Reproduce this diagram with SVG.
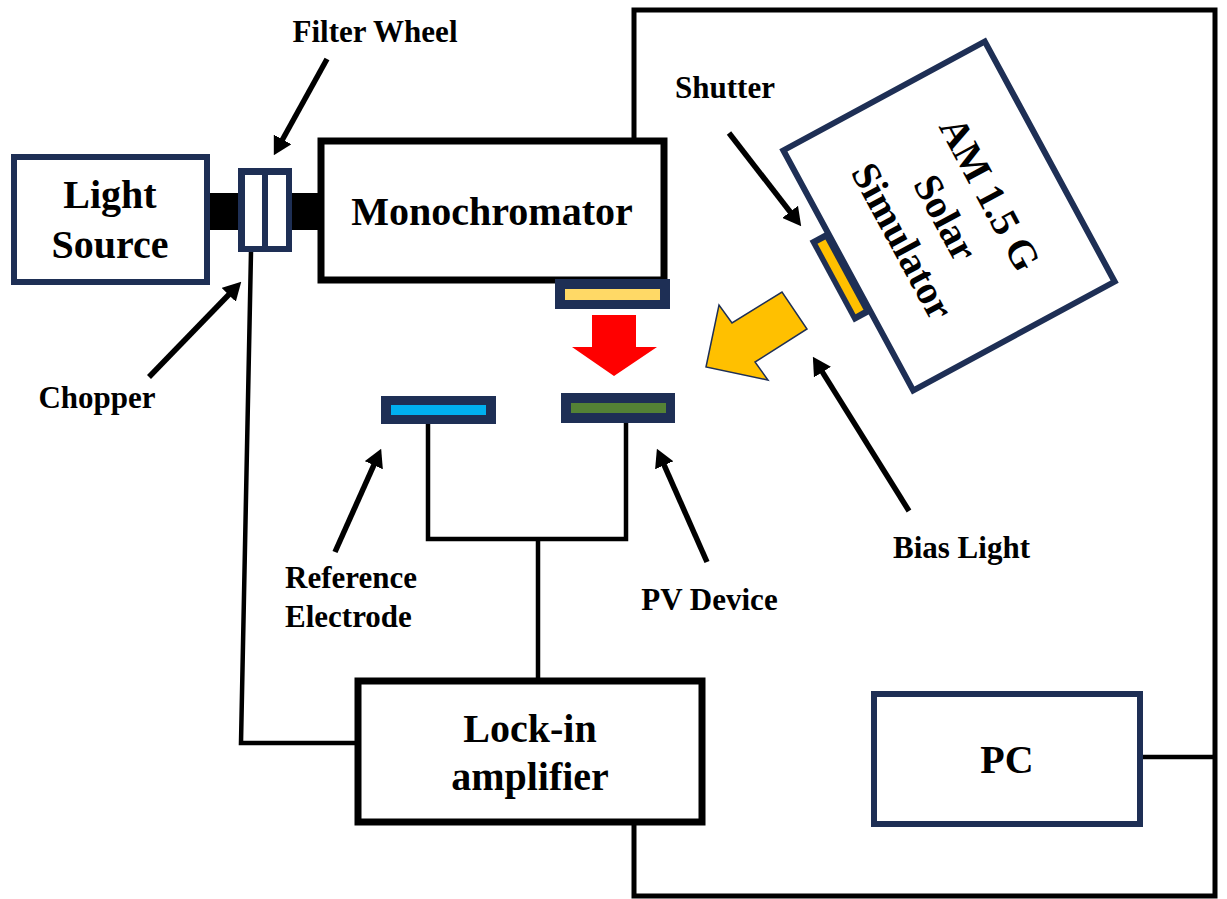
<svg xmlns="http://www.w3.org/2000/svg" width="1227" height="899" viewBox="0 0 1227 899">
<style>
  text { font-family: "Liberation Serif", "Times New Roman", serif; font-weight: bold; fill: #000; }
  .big { font-size: 40px; text-anchor: middle; }
  .lbl { font-size: 31px; }
  .mid { text-anchor: middle; }
  .navybox { fill: #fff; stroke: #1E2F55; stroke-width: 6; }
  .blackbox { fill: #fff; stroke: #000; stroke-width: 7; }
  .navy { fill: #1E2F55; }
  .wire { fill: none; stroke: #000; stroke-width: 4.5; }
  .frame { fill: none; stroke: #000; stroke-width: 5; }
  .pointer { fill: none; stroke: #000; stroke-width: 5.5; marker-end: url(#ah); }
</style>
<defs>
  <marker id="ah" viewBox="0 0 10 11" refX="1" refY="5.5" markerWidth="3.3" markerHeight="3.63" orient="auto" markerUnits="strokeWidth">
    <path d="M0,0 L10,5.5 L0,11 z" fill="#000"/>
  </marker>
</defs>
<rect width="1227" height="899" fill="#fff"/>

<g id="connectors">
  <path class="frame" d="M634,140 L634,10 L1215,10 L1215,896 L634,896 L634,825"/>
  <path class="wire" d="M1143,757 L1215,757"/>
  <path class="wire" d="M251,252 L241,743 L358,743"/>
  <path class="wire" d="M428,424 L428,539 L626,539 L626,423"/>
  <path class="wire" d="M538,539 L538,681"/>
  <rect x="205" y="193" width="118" height="37" fill="#000"/>
  <line class="pointer" x1="327" y1="59" x2="281.7" y2="141"/>
  <line class="pointer" x1="149" y1="377" x2="229.9" y2="293.5"/>
  <line class="pointer" x1="729" y1="133" x2="791.2" y2="213.3"/>
  <line class="pointer" x1="909" y1="511" x2="821.5" y2="370.6"/>
  <line class="pointer" x1="335" y1="552" x2="374.5" y2="463.6"/>
  <line class="pointer" x1="707" y1="562" x2="663.5" y2="463.6"/>
</g>

<g id="light-source">
  <rect class="navybox" x="14" y="157" width="193" height="125"/>
  <text class="big" x="110" y="208">Light</text>
  <text class="big" x="110" y="258">Source</text>
</g>

<g id="filter-wheel">
  <rect class="navy" x="238" y="168" width="54" height="84"/>
  <rect x="245" y="175" width="17" height="71" fill="#fff"/>
  <rect x="268" y="175" width="18" height="71" fill="#fff"/>
</g>

<g id="monochromator">
  <rect class="blackbox" x="321" y="141" width="343" height="139"/>
  <text class="big" x="492" y="225">Monochromator</text>
</g>

<g id="exit-slit">
  <rect class="navy" x="555" y="279" width="115" height="30"/>
  <rect x="565" y="289" width="95" height="11" fill="#FFD966"/>
</g>

<g id="mono-beam">
  <polygon points="592,315 636,315 636,347 657,347 614,376 572,347 592,347" fill="#FF0000"/>
</g>

<g id="reference-electrode">
  <rect class="navy" x="381" y="396" width="115" height="28"/>
  <rect x="391" y="405" width="95" height="10" fill="#00B0F0"/>
</g>

<g id="pv-device">
  <rect class="navy" x="561" y="393" width="114" height="30"/>
  <rect x="571" y="403" width="95" height="10" fill="#548235"/>
</g>

<g id="bias-beam">
  <polygon points="706,367 719,305 732,323 782,292 807,329 755,362 768,380" fill="#FFC000" stroke="#1E2F55" stroke-width="1.5" stroke-linejoin="miter"/>
</g>

<g id="solar-simulator" transform="translate(949,216) rotate(61.6)">
  <rect class="navybox" x="-136.5" y="-114.5" width="273" height="229"/>
  <text class="big" x="0" y="-33">AM 1.5 G</text>
  <text class="big" x="0" y="17">Solar</text>
  <text class="big" x="0" y="66">Simulator</text>
</g>

<g id="shutter" transform="translate(840.5,276.8) rotate(61.6)">
  <rect class="navy" x="-46.5" y="-10" width="93" height="20"/>
  <rect x="-40" y="-4.5" width="80" height="9" fill="#FFC000"/>
</g>

<g id="lock-in">
  <rect class="blackbox" x="358" y="681" width="344" height="141" stroke-width="6.5"/>
  <text class="big" x="530" y="742">Lock-in</text>
  <text class="big" x="530" y="790">amplifier</text>
</g>

<g id="pc">
  <rect class="navybox" x="874" y="694" width="266" height="130"/>
  <text class="big" x="1007" y="773">PC</text>
</g>

<g id="labels">
  <text class="lbl mid" x="375" y="42">Filter Wheel</text>
  <text class="lbl mid" x="725" y="98">Shutter</text>
  <text class="lbl mid" x="97" y="408">Chopper</text>
  <text class="lbl" x="285" y="588">Reference</text>
  <text class="lbl" x="285" y="627">Electrode</text>
  <text class="lbl mid" x="709.5" y="610">PV Device</text>
  <text class="lbl mid" x="961.5" y="558">Bias Light</text>
</g>
</svg>
